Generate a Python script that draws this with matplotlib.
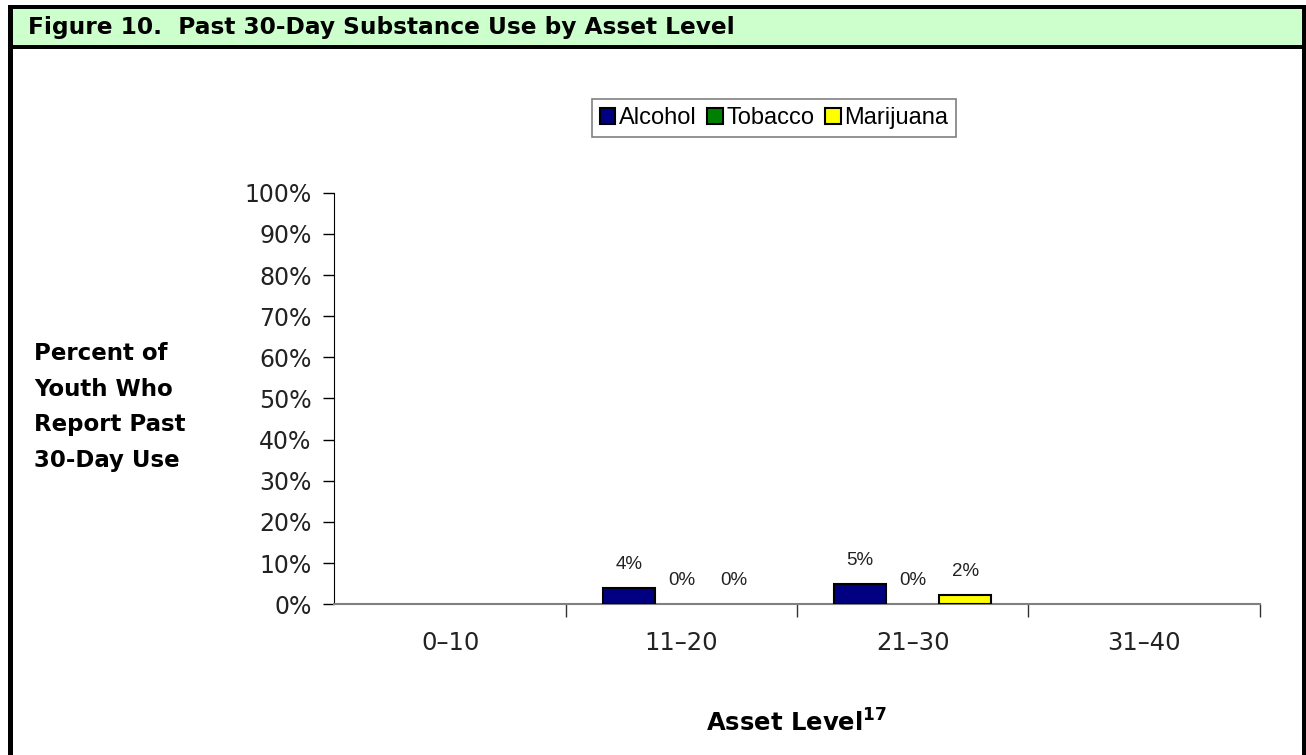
import numpy as np
import matplotlib
matplotlib.use('Agg')
from matplotlib import pyplot as plt
from matplotlib.patches import Rectangle

# data (NaN = no bar / no label)
categories = ['0\u201310', '11\u201320', '21\u201330', '31\u201340']
series = ['Alcohol', 'Tobacco', 'Marijuana']
alcohol = [np.nan, 4.0, 4.9, np.nan]
tobacco = [np.nan, 0.0, 0.0, np.nan]
marijuana = [np.nan, 0.0, 2.3, np.nan]
colors = ['#000080', '#008000', '#FFFF00']

W, H = 1306, 755
plt.rcParams['font.family'] = ['DejaVu Sans']
plt.rcParams['mathtext.default'] = 'bf'

fig = plt.figure(figsize=(W / 100, H / 100), dpi=100)


def box(x0, y0, x1, y1, color):
    # pixel box (top-left origin) -> figure rectangle
    fig.add_artist(Rectangle((x0 / W, 1 - y1 / H), (x1 - x0) / W, (y1 - y0) / H,
                             transform=fig.transFigure, facecolor=color,
                             edgecolor='none', zorder=0))


# header band and frame
box(13, 8, 1302, 45, '#CCFFCC')
box(8, 5, 1306, 8.5, 'black')
box(8, 5, 13, 755, 'black')
box(1302, 5, 1306, 755, 'black')
box(8, 45, 1306, 49, 'black')
fig.text(28 / W, 1 - 34 / H, 'Figure 10.  Past 30-Day Substance Use by Asset Level',
         fontsize=16.75, fontweight='bold', va='baseline', ha='left')

ax = fig.add_axes([334.5 / W, 1 - 604.3 / H, 925 / W, 411.6 / H])

x = np.arange(len(categories))
w = 0.227
values = [alcohol, tobacco, marijuana]
for i in range(len(series)):
    pos = x + (i - 1) * w
    vals = np.array(values[i])
    bars = ax.bar(pos, vals, width=w, color=colors[i], edgecolor='black', linewidth=1.5,
                  label=series[i], zorder=3)
    for b, p, v in zip(bars, pos, vals):
        if np.isnan(v):
            continue
        if v == 0:
            b.set_linewidth(0)
        ax.annotate('%d%%' % round(v), (p, v), xytext=(0, 11), textcoords='offset points',
                    ha='center', va='bottom', fontsize=13.5, color='#222222',
                    family='Liberation Sans')

ax.set_xlim(-0.5, 3.5)
ax.set_ylim(0, 100)
ax.set_yticks(np.arange(0, 101, 10))
ax.set_yticklabels(['%d%%' % t for t in range(0, 101, 10)], fontsize=17, color='#222222')
ax.tick_params(axis='y', length=8, width=1, color='black', pad=8.5)

ax.set_xticks(x)
ax.set_xticklabels(categories, fontsize=17.5, color='#222222')
ax.tick_params(axis='x', which='major', length=0, pad=19)
ax.set_xticks([0.5, 1.5, 2.5, 3.5], minor=True)
ax.tick_params(axis='x', which='minor', length=9, width=1, color='#333333')

for s in ['top', 'right']:
    ax.spines[s].set_visible(False)
ax.spines['left'].set_color('black')
ax.spines['bottom'].set_color('#808080')
ax.spines['bottom'].set_linewidth(1.5)

fig.text(34 / W, 1 - 407 / H, 'Percent of\nYouth Who\nReport Past\n30-Day Use',
         fontsize=16.5, fontweight='bold', ha='left', va='center', linespacing=1.7)
fig.text(797 / W, 1 - 723 / H, r'Asset Level$^{17}$', fontsize=17.5, fontweight='bold',
         ha='center', va='center')

leg = fig.legend(loc='center', bbox_to_anchor=(774 / W, 1 - 118 / H), ncol=3,
                 frameon=True, fancybox=False, edgecolor='#808080', framealpha=1,
                 prop={'family': 'Liberation Sans', 'size': 17},
                 handlelength=0.66, handleheight=0.66, handletextpad=0.15,
                 columnspacing=0.45, borderpad=0.35, borderaxespad=0)
leg.get_frame().set_linewidth(1.2)

fig.savefig('out.png', dpi=100)
